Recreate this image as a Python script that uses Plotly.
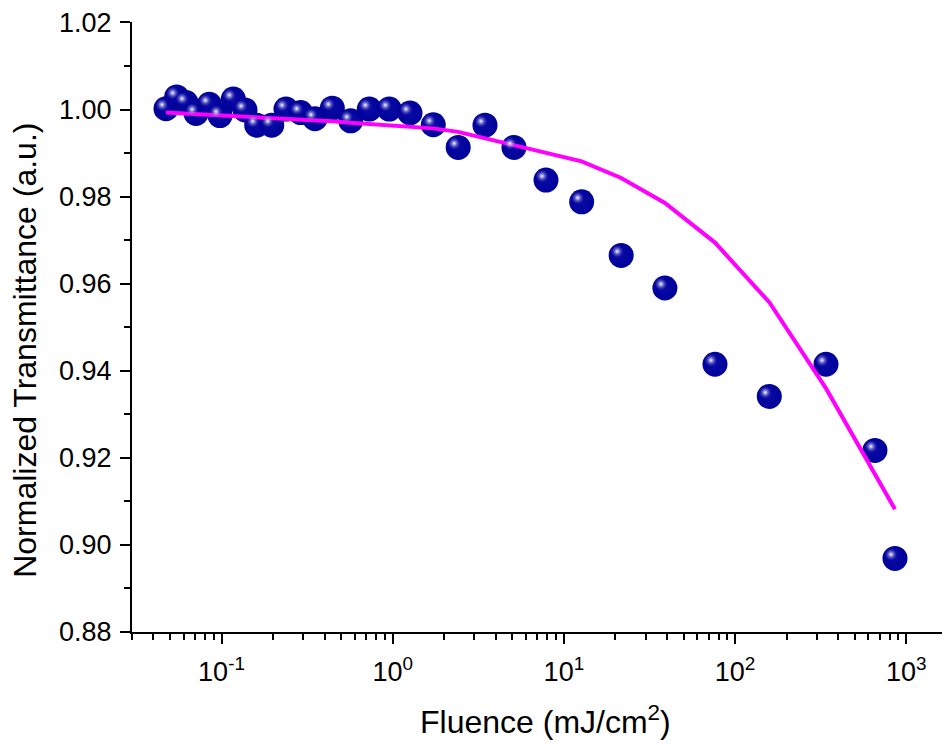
import plotly.graph_objects as go

# ---- data ----
fluence = [0.0474, 0.0547, 0.0620, 0.0710, 0.0849, 0.0980, 0.1172, 0.1372,
           0.1606, 0.1965, 0.238, 0.290, 0.3516, 0.4438, 0.5684, 0.730,
           0.955, 1.262, 1.726, 2.413, 3.46, 5.11, 7.86, 12.7, 21.6, 38.9,
           76.3, 158.4, 339.6, 656, 859]
transmittance = [1.0002, 1.0029, 1.0016, 0.9991, 1.0012, 0.9986, 1.0024, 0.9999,
                 0.9964, 0.9964, 1.0001, 0.9993, 0.9979, 1.0003, 0.9974, 1.0001,
                 1.0001, 0.9992, 0.9965, 0.9913, 0.9964, 0.9913, 0.9838, 0.9788,
                 0.9665, 0.9590, 0.9415, 0.9341, 0.9415, 0.9217, 0.8969]
fit_values = [0.99931, 0.99919, 0.99910, 0.99901, 0.99887, 0.99876, 0.99860, 0.99846,
              0.99832, 0.99814, 0.99795, 0.99774, 0.99754, 0.99728, 0.99698, 0.99671,
              0.99636, 0.99602, 0.99567, 0.99487, 0.99335, 0.99178, 0.99003, 0.98808,
              0.98428, 0.97853, 0.96944, 0.95574, 0.93595, 0.91639, 0.90817]

y_ticks = [0.88, 0.90, 0.92, 0.94, 0.96, 0.98, 1.00, 1.02]
y_ticklabels = ["0.88", "0.90", "0.92", "0.94", "0.96", "0.98", "1.00", "1.02"]
x_ticks = [0.1, 1, 10, 100, 1000]
x_ticklabels = ["10<sup>-1</sup>", "10<sup>0</sup>", "10<sup>1</sup>",
                "10<sup>2</sup>", "10<sup>3</sup>"]

FONT = "Arial, Liberation Sans, sans-serif"
BALL = "#00009A"

x_range = [-1.5228, 3.2553]
y_range = [0.88, 1.0201]
# highlight offset (a few pixels up-left), via shifted overlay axes
dx = 4 / 171.2
dy = 4 * (0.14 / 610)

fig = go.Figure()

fig.add_trace(go.Scatter(
    x=fluence, y=transmittance, mode="markers",
    marker=dict(size=25, color=BALL, line=dict(width=0),
                gradient=dict(type="radial", color="#0a0aa6")),
    showlegend=False, hoverinfo="skip"))

fig.add_trace(go.Scatter(
    x=fluence, y=fit_values, mode="lines",
    line=dict(color="#FF00FF", width=4),
    showlegend=False, hoverinfo="skip"))

fig.add_trace(go.Scatter(
    x=fluence, y=transmittance, mode="markers", xaxis="x2", yaxis="y2",
    marker=dict(size=13, color="rgba(60,60,190,0)", line=dict(width=0),
                gradient=dict(type="radial", color="white")),
    showlegend=False, hoverinfo="skip"))

axis_common = dict(showgrid=False, zeroline=False, showline=True, linecolor="black",
                   linewidth=2, ticks="outside", tickcolor="black", tickwidth=2,
                   ticklen=10, tickfont=dict(family=FONT, size=27, color="black"),
                   ticklabeloverflow="allow", automargin=False)

fig.update_layout(
    width=950, height=745,
    margin=dict(l=124, r=8, t=14, b=121),
    paper_bgcolor="white", plot_bgcolor="white",
    xaxis=dict(type="log", range=x_range, tickvals=x_ticks, ticktext=x_ticklabels,
               ticklabelstandoff=5,
               minor=dict(ticks="outside", ticklen=6, tickwidth=2, tickcolor="black",
                          dtick="D1", showgrid=False),
               **axis_common),
    yaxis=dict(range=y_range, tickvals=y_ticks, ticktext=y_ticklabels,
               ticklabelstandoff=3,
               minor=dict(ticks="outside", ticklen=6, tickwidth=2, tickcolor="black",
                          dtick=0.01, showgrid=False),
               **axis_common),
    xaxis2=dict(type="log", range=[x_range[0] + dx, x_range[1] + dx],
                overlaying="x", visible=False),
    yaxis2=dict(range=[y_range[0] - dy, y_range[1] - dy], overlaying="y", visible=False),
    annotations=[
        dict(text="Normalized Transmittance (a.u.)", textangle=-90,
             xref="paper", yref="paper", x=-0.131, y=0.4623,
             xanchor="center", yanchor="middle", showarrow=False,
             font=dict(family=FONT, size=32, color="black")),
        dict(text="Fluence (mJ/cm<sup>2</sup>)",
             xref="paper", yref="paper", x=0.505, y=-0.1443,
             xanchor="center", yanchor="middle", showarrow=False,
             font=dict(family=FONT, size=32, color="black")),
    ],
)

fig.write_html("out.html")
